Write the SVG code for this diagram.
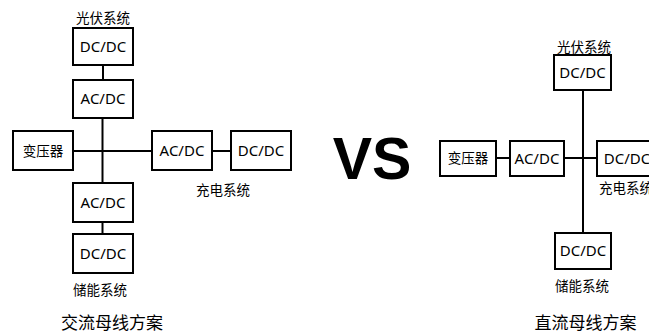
<svg xmlns="http://www.w3.org/2000/svg" width="649" height="334" viewBox="0 0 649 334">
<style>
.box{fill:#fff;stroke:#000;stroke-width:2}
.ln{stroke:#000;stroke-width:2;fill:none}
.t{font-family:"Noto Sans","Noto Sans CJK SC",sans-serif;font-size:15px;fill:#000;text-anchor:middle}
.c{font-family:"Noto Sans CJK SC",sans-serif;font-size:13.5px;fill:#000;text-anchor:middle}
.h{font-family:"Noto Sans CJK SC",sans-serif;font-size:17px;fill:#000;text-anchor:middle}
</style>
<rect width="649" height="334" fill="#fff"/>
<g id="connectors">
<line class="ln" x1="103" y1="65" x2="103" y2="80"/>
<line class="ln" x1="102.5" y1="118" x2="102.5" y2="183"/>
<line class="ln" x1="73" y1="151" x2="152" y2="151"/>
<line class="ln" x1="212" y1="151" x2="231" y2="151"/>
<line class="ln" x1="102.5" y1="222" x2="102.5" y2="234"/>
<line class="ln" x1="583" y1="90" x2="583" y2="233"/>
<line class="ln" x1="496" y1="158" x2="510" y2="158"/>
<line class="ln" x1="564" y1="158" x2="597" y2="158"/>
</g>
<g id="ac-title"><text class="h" x="112" y="329">交流母线方案</text></g>
<g id="ac-pv-label"><text class="c" x="103" y="22.5">光伏系统</text></g>
<g id="ac-pv-dcdc"><rect class="box" x="73" y="28" width="60" height="37"/><text class="t" x="103" y="52">DC/DC</text></g>
<g id="ac-pv-acdc"><rect class="box" x="73" y="80" width="60" height="38"/><text class="t" x="103" y="104">AC/DC</text></g>
<g id="ac-transformer"><rect class="box" x="13" y="131" width="60" height="39"/><text class="c" x="43" y="155.5">变压器</text></g>
<g id="ac-ch-acdc"><rect class="box" x="152" y="131" width="60" height="39"/><text class="t" x="182" y="156">AC/DC</text></g>
<g id="ac-ch-dcdc"><rect class="box" x="231" y="131" width="60" height="39"/><text class="t" x="261" y="156">DC/DC</text></g>
<g id="ac-ch-label"><text class="c" x="223" y="195">充电系统</text></g>
<g id="ac-st-acdc"><rect class="box" x="73" y="183" width="60" height="39"/><text class="t" x="103" y="208">AC/DC</text></g>
<g id="ac-st-dcdc"><rect class="box" x="73" y="234" width="60" height="39"/><text class="t" x="103" y="259">DC/DC</text></g>
<g id="ac-st-label"><text class="c" x="100" y="295">储能系统</text></g>
<g id="vs"><text x="372" y="179" font-family="'Liberation Sans',Arial,sans-serif" font-weight="bold" font-size="59" text-anchor="middle" fill="#000">VS</text></g>
<g id="dc-pv-label"><text class="c" x="584" y="52">光伏系统</text></g>
<g id="dc-pv-dcdc"><rect class="box" x="554" y="55" width="57" height="35"/><text class="t" x="582.5" y="78">DC/DC</text></g>
<g id="dc-transformer"><rect class="box" x="440" y="141" width="56" height="35"/><text class="c" x="468" y="163">变压器</text></g>
<g id="dc-acdc"><rect class="box" x="510" y="141" width="54" height="35"/><text class="t" x="537" y="163.5">AC/DC</text></g>
<g id="dc-ch-dcdc"><rect class="box" x="597" y="141" width="60" height="35"/><text class="t" x="627" y="163.5">DC/DC</text></g>
<g id="dc-ch-label"><text class="c" x="599" y="193" text-anchor="start" style="text-anchor:start">充电系统</text></g>
<g id="dc-st-dcdc"><rect class="box" x="555" y="233" width="56" height="36"/><text class="t" x="583" y="256">DC/DC</text></g>
<g id="dc-st-label"><text class="c" x="582" y="291">储能系统</text></g>
<g id="dc-title"><text class="h" x="585.5" y="329">直流母线方案</text></g>
</svg>
